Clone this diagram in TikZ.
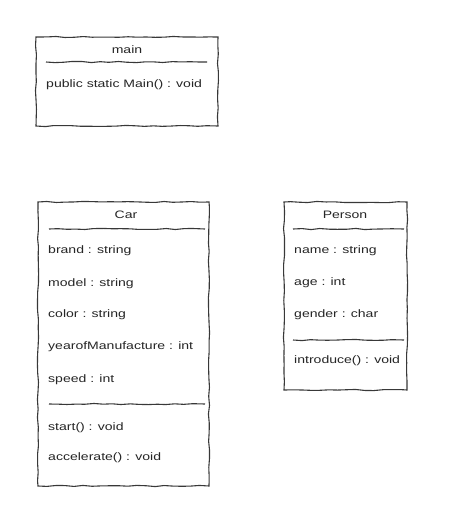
\documentclass[tikz,border=0pt]{standalone}
\usepackage{fontspec}
\setmainfont[FakeStretch=1.3]{Liberation Sans}
\usetikzlibrary{decorations.pathmorphing}

\tikzset{
	sketch/.style={draw=black!78, line width=1.1pt, decorate,
		decoration={random steps, segment length=9pt, amplitude=0.6pt}},
	member/.style={anchor=west, inner sep=0pt, text=black!85,
		font=\fontsize{10.8}{12}\selectfont},
	title/.style={inner sep=0pt, text=black!85, font=\fontsize{10.8}{12}\selectfont}
}

\begin{document}
\begin{tikzpicture}[x=1pt, y=-1pt]
	\useasboundingbox (0,0) rectangle (452,520);
	% main
	\draw[sketch, fill=white] (36,37) rectangle (218,126);
	\node[title] (mainT) at (127,50) {main};
	\draw[sketch] (46,62) -- (207,62);
	\node[member] (mainM) at (46,85) {public static Main() : void};
	% Car
	\draw[sketch, fill=white] (38,202) rectangle (209,486);
	\node[title] (carT) at (126,215) {Car};
	\draw[sketch] (49,229) -- (205,229);
	\foreach \y/\t in {251/brand : string, 284/model : string, 315/color : string,
		347/yearofManufacture : int, 380/speed : int, 428/start() : void, 458/accelerate() : void}
	{\node[member] at (48,\y) {\t};}
	\draw[sketch] (49,404) -- (205,404);
	% Person
	\draw[sketch, fill=white] (284,202) rectangle (407,390);
	\node[title] (personT) at (345,215) {Person};
	\draw[sketch] (293,229) -- (404,229);
	\foreach \y/\t in {251/name : string, 283/age : int, 315/gender : char, 361/introduce() : void}
	{\node[member] at (294,\y) {\t};}
	\draw[sketch] (293,340) -- (404,340);
\end{tikzpicture}
\end{document}
